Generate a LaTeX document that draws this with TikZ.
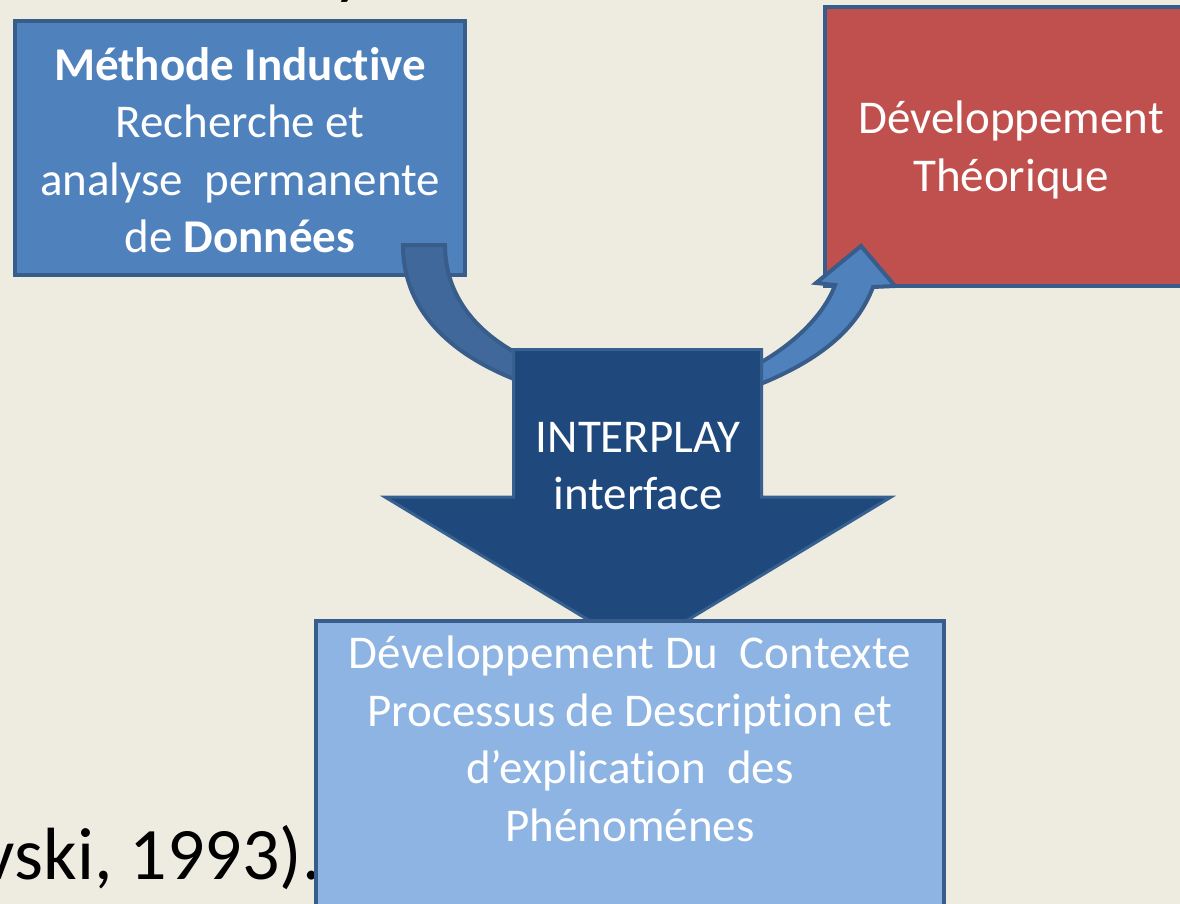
\documentclass[tikz,border=0pt]{standalone}
\usepackage{fontspec}
\setmainfont{Carlito}[RawFeature={-liga;-clig;-calt}]
\newcommand{\tibrk}{\kern0pt }
\definecolor{bgc}{HTML}{EEECE1}
\definecolor{boxblue}{HTML}{4F81BD}
\definecolor{outl}{HTML}{385D8A}
\definecolor{redbox}{HTML}{C0504D}
\definecolor{lightbox}{HTML}{8EB4E3}
\definecolor{darkarrow}{HTML}{1F497D}
\definecolor{darkoutl}{HTML}{36608F}
\definecolor{curvedark}{HTML}{41689A}
\tikzset{
  blockbox/.style={draw=outl, line width=4pt, rectangle, inner sep=0pt, outer sep=0pt},
  boxtext/.style={text=white, align=center, inner sep=0pt, font=\fontsize{47}{57.5}\selectfont},
  curvearrow/.style={draw=outl, line width=4pt, line join=miter},
  bigtext/.style={text=black, inner sep=0pt, font=\fontsize{74}{88}\selectfont}
}
\begin{document}
\begin{tikzpicture}[x=1pt,y=-1pt]
\useasboundingbox (0,0) rectangle (1180,904);
\begin{scope}
\clip (0,0) rectangle (1180,904);
\fill[bgc] (0,0) rectangle (1180,904);
% cut-off text of the slide
\node[bigtext, anchor=base west] (ytail) at (333,-9) {y};
\node[bigtext, anchor=base east] (cite) at (321,879) {vski, 1993).};
% boxes
\node[blockbox, fill=boxblue, minimum width=450pt, minimum height=254pt] (induct) at (240,148) {};
\node[boxtext] (inducttext) at (240,150) {\textbf{Méthode Induct\tibrk ive}\\Recherche et\\analyse\ \ permanente\\de \textbf{Données}};
\node[blockbox, fill=redbox, minimum width=372pt, minimum height=279pt] (theory) at (1011,146.5) {};
\node[boxtext] (theorytext) at (1011,150) {Développement\\Théorique};
% curved arrows
\coordinate (la1) at (403,245);
\coordinate (la2) at (445,245);
\coordinate (la3) at (530,360);
\coordinate (la4) at (530,385);
\draw[curvearrow, fill=curvedark] (la1) -- (la2) .. controls (445,297) and (478,336) .. (la3) -- (la4) .. controls (455,359) and (403,314) .. (la1) -- cycle;
\coordinate (ra1) at (745,371);
\coordinate (ra2) at (835,285);
\coordinate (rtip) at (861,246);
\coordinate (ra3) at (873,287);
\coordinate (ra4) at (745,390);
\draw[curvearrow, fill=boxblue] (ra1) .. controls (795,346) and (825,313) .. (ra2) -- (816,283) -- (rtip) -- (895,286) -- (ra3) .. controls (855,335) and (810,366) .. (ra4) -- cycle;
% big down arrow
\draw[draw=darkoutl, line width=3pt, fill=darkarrow] (513.5,349.5) -- (761.5,349.5) -- (761.5,497) -- (891,497) -- (638,650) -- (385,497) -- (513.5,497) -- cycle;
\node[boxtext] (interplay) at (638,466) {INTERPLAY\\interface};
% bottom box
\node[blockbox, fill=lightbox, minimum width=628pt, minimum height=339pt] (context) at (630,790.5) {};
\node[boxtext] (contexttext) at (630,739) {Développement Du\ \ Contexte\\Processus de Descript\tibrk ion et\\d’explicat\tibrk ion\ \ des\\Phénoménes};
\end{scope}
\end{tikzpicture}
\end{document}
